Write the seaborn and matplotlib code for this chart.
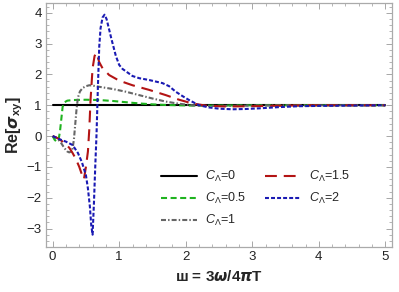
import matplotlib
matplotlib.use("Agg")
import matplotlib.pyplot as plt
import seaborn as sns
import numpy as np
import pandas as pd
from matplotlib.ticker import MultipleLocator

# ---- data ----
x_c0 = [0.0, 5.0]
y_c0 = [1.0, 1.0]

x_c05 = [0, 0.03, 0.06, 0.09, 0.11, 0.13, 0.15, 0.18, 0.22, 0.3, 0.5, 0.7, 0.9, 1.1, 1.3,
         1.5, 1.7, 1.9, 2.1, 2.4, 3.0, 4.0, 5.0]
y_c05 = [0, -0.12, -0.18, -0.1, 0.15, 0.55, 0.95, 1.1, 1.15, 1.17, 1.18, 1.17, 1.14, 1.1, 1.06,
         1.03, 1.01, 1.0, 0.99, 0.99, 1.0, 1.0, 1.0]

x_c1 = [0, 0.06, 0.12, 0.18, 0.22, 0.25, 0.28, 0.3, 0.32, 0.34, 0.36, 0.38, 0.41, 0.45, 0.5,
        0.55, 0.6, 0.7, 0.9, 1.1, 1.3, 1.5, 1.7, 1.9, 2.1, 2.3, 2.6, 3.0, 3.5, 4.0, 5.0]
y_c1 = [0, -0.06, -0.2, -0.4, -0.5, -0.53, -0.5, -0.4, -0.1, 0.4, 0.9, 1.25, 1.45, 1.56, 1.62,
        1.65, 1.64, 1.6, 1.53, 1.44, 1.33, 1.22, 1.12, 1.05, 1.0, 0.98, 0.98, 0.99, 1.0, 1.0, 1.0]

x_c15 = [0, 0.05, 0.1, 0.15, 0.2, 0.25, 0.3, 0.35, 0.4, 0.44, 0.47, 0.5, 0.53, 0.55, 0.57,
         0.6, 0.63, 0.66, 0.7, 0.75, 0.85, 1.0, 1.2, 1.45, 1.7, 1.9, 2.1, 2.3, 2.6, 3.0, 3.5, 4.0, 5.0]
y_c15 = [0, -0.04, -0.1, -0.18, -0.27, -0.38, -0.55, -0.75, -1.0, -1.25, -1.4, -1.0, -0.5, 0.2, 1.2,
         2.2, 2.6, 2.7, 2.4, 2.2, 1.98, 1.8, 1.65, 1.5, 1.33, 1.18, 1.06, 0.99, 0.96, 0.97, 0.99, 1.0, 1.0]

x_c2 = [0, 0.1, 0.2, 0.3, 0.38, 0.44, 0.5, 0.53, 0.56, 0.58, 0.6, 0.62, 0.64, 0.66, 0.68,
        0.7, 0.72, 0.75, 0.78, 0.81, 0.85, 0.88, 0.95, 1.0, 1.05, 1.2, 1.3, 1.45, 1.65, 1.75,
        1.85, 1.95, 2.05, 2.2, 2.35, 2.5, 2.7, 2.9, 3.1, 3.4, 3.7, 4.0, 4.5, 5.0]
y_c2 = [0, -0.1, -0.18, -0.29, -0.55, -0.85, -1.27, -1.7, -2.3, -2.9, -3.2, -2.2, -1.0, 0.1, 1.6,
        2.9, 3.5, 3.85, 3.94, 3.8, 3.45, 3.18, 2.6, 2.31, 2.18, 1.95, 1.88, 1.82, 1.72, 1.62,
        1.44, 1.3, 1.17, 1.0, 0.93, 0.89, 0.87, 0.88, 0.9, 0.94, 0.97, 0.98, 0.99, 1.0]

labels = [r"$C_\Lambda$=0", r"$C_\Lambda$=0.5", r"$C_\Lambda$=1", r"$C_\Lambda$=1.5", r"$C_\Lambda$=2"]
colors = ["#000000", "#1fb31f", "#666666", "#b31414", "#1a1ab3"]
xs = [x_c0, x_c05, x_c1, x_c15, x_c2]
ys = [y_c0, y_c05, y_c1, y_c15, y_c2]
lw = 1.5
styles = ["-", (0, (2.9, 1.7)), (0, (2.4, 1.0, 0.7, 1.0)), (0, (5.7, 3.3)), (0, (1.9, 1.0))]

sns.set_style("white")
plt.rcParams['font.family'] = ['Liberation Sans', 'DejaVu Sans']
plt.rcParams['mathtext.fontset'] = 'custom'
plt.rcParams['mathtext.rm'] = 'Liberation Sans'
plt.rcParams['mathtext.it'] = 'Liberation Sans:italic'
plt.rcParams['mathtext.bf'] = 'Liberation Sans:bold'

fig = plt.figure(figsize=(3.99, 2.92), dpi=100)
ax = fig.add_axes([46/399, 1-247/292, 346/399, 244/292])

for x, y, lab, c, ls in zip(xs, ys, labels, colors, styles):
    df = pd.DataFrame({"w": x, "s": y})
    sns.lineplot(data=df, x="w", y="s", ax=ax, color=c, linestyle=ls, linewidth=lw,
                 label=lab, sort=False, estimator=None)

ax.set_xlim(-0.1, 5.1)
ax.set_ylim(-3.6, 4.32)
ax.xaxis.set_major_locator(MultipleLocator(1))
ax.xaxis.set_minor_locator(MultipleLocator(0.2))
ax.yaxis.set_major_locator(MultipleLocator(1))
ax.yaxis.set_minor_locator(MultipleLocator(0.2))
ax.set_yticks([-3, -2, -1, 0, 1, 2, 3, 4])
ax.tick_params(which='both', direction='in', top=True, right=True, bottom=True, left=True,
               color='#999999', labelsize=9.5, labelcolor='#222222', pad=3)
ax.tick_params(which='major', length=4, width=0.6)
ax.tick_params(which='minor', length=2, width=0.5)
for sp in ax.spines.values():
    sp.set_color('#aaaaaa')
    sp.set_linewidth(0.9)
ax.set_yticklabels(["\u22123", "\u22122", "\u22121", "0", "1", "2", "3", "4"])

ax.set_xlabel("ш = 3$\\boldsymbol{\\omega}$/4$\\boldsymbol{\\pi}$T", fontsize=11, fontweight='bold', labelpad=4)
ax.set_ylabel("Re[$\\boldsymbol{\\sigma}_{\\mathbf{xy}}$]", fontsize=11.5, fontweight='bold', labelpad=1)

leg = ax.legend(ncol=2, frameon=False, loc='lower left', bbox_to_anchor=(0.30, 0.03),
                fontsize=9, handlelength=2.9, columnspacing=1.5, labelspacing=0.55, handletextpad=0.6)

fig.savefig("out.png", dpi=100)
